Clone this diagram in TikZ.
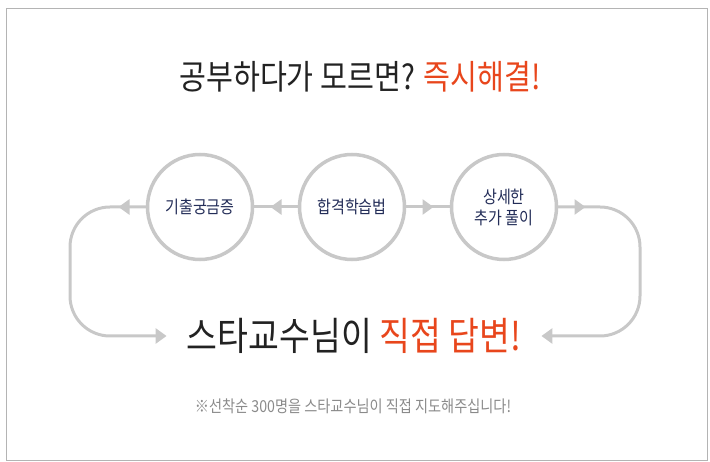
\documentclass[tikz,border=0pt]{standalone}
\usepackage{fontspec}
\setmainfont{Noto Sans CJK KR}[FakeStretch=0.86]
\usepackage{tikz}
\usetikzlibrary{arrows.meta, positioning, calc, decorations.markings}
\definecolor{ringgray}{HTML}{C8C8C8}
\definecolor{framegray}{HTML}{B4B4B4}
\definecolor{hotorange}{HTML}{E8461C}
\definecolor{inkblack}{HTML}{222222}
\definecolor{labelnavy}{HTML}{232D58}
\definecolor{notegray}{HTML}{8A8A8A}
\tikzstyle{headline} = [inner sep=0pt, text=inkblack, font=\fontsize{34}{40}\selectfont]
\tikzstyle{stage} = [circle, minimum size=105pt, inner sep=0pt, outer sep=0pt, draw=ringgray, line width=3.5pt, fill=white, align=center, text=labelnavy, font=\fontsize{17.5}{21}\selectfont]
\tikzstyle{answer} = [inner sep=0pt, text=inkblack, font=\fontsize{39}{46}\selectfont]
\tikzstyle{note} = [inner sep=0pt, text=notegray, font=\fontsize{16.5}{20}\selectfont]
\tikzstyle{flow} = [ringgray, line width=3pt]
\tikzstyle{sideloop} = [flow, rounded corners=40pt, -{Triangle[length=11pt, width=15pt]}, shorten >=20pt]
\tikzset{tipat/.style={postaction={decorate}, decoration={markings, mark=at position #1 with {\arrow{Triangle[length=11pt, width=15pt]}}}}}

\begin{document}
\begin{tikzpicture}[x=1pt, y=-1pt, node distance=47pt]
  \useasboundingbox (0,0) rectangle (710,462);
  \draw[framegray, line width=1pt] (6.5,8.5) rectangle (707.5,460.5);

  \node[headline] (head) at (360,77) {공부하다가 모르면? \textcolor{hotorange}{즉시해결!}};

  \node[stage] (c1) at (200,207) {기출궁금증};
  \node[stage, right=of c1] (c2) {합격학습법};
  \node[stage, right=of c2] (c3) {상세한\\추가 풀이};

  \node[answer] (ans) at (354,336) {스타교수님이 \textcolor{hotorange}{직접 답변!}};
  \node[note] (note) at (353,406) {※선착순 300명을 스타교수님이 직접 지도해주십니다!};

  \coordinate (lturn) at (70,207);
  \coordinate (rturn) at (640,207);

  \draw[flow, tipat=-18pt] (c2) -- (c1);
  \draw[flow, tipat=-18pt] (c2) -- (c3);
  \draw[sideloop, tipat=29pt] (c1) -- (lturn) |- (ans);
  \draw[sideloop, tipat=29pt] (c3) -- (rturn) |- (ans);
\end{tikzpicture}
\end{document}
